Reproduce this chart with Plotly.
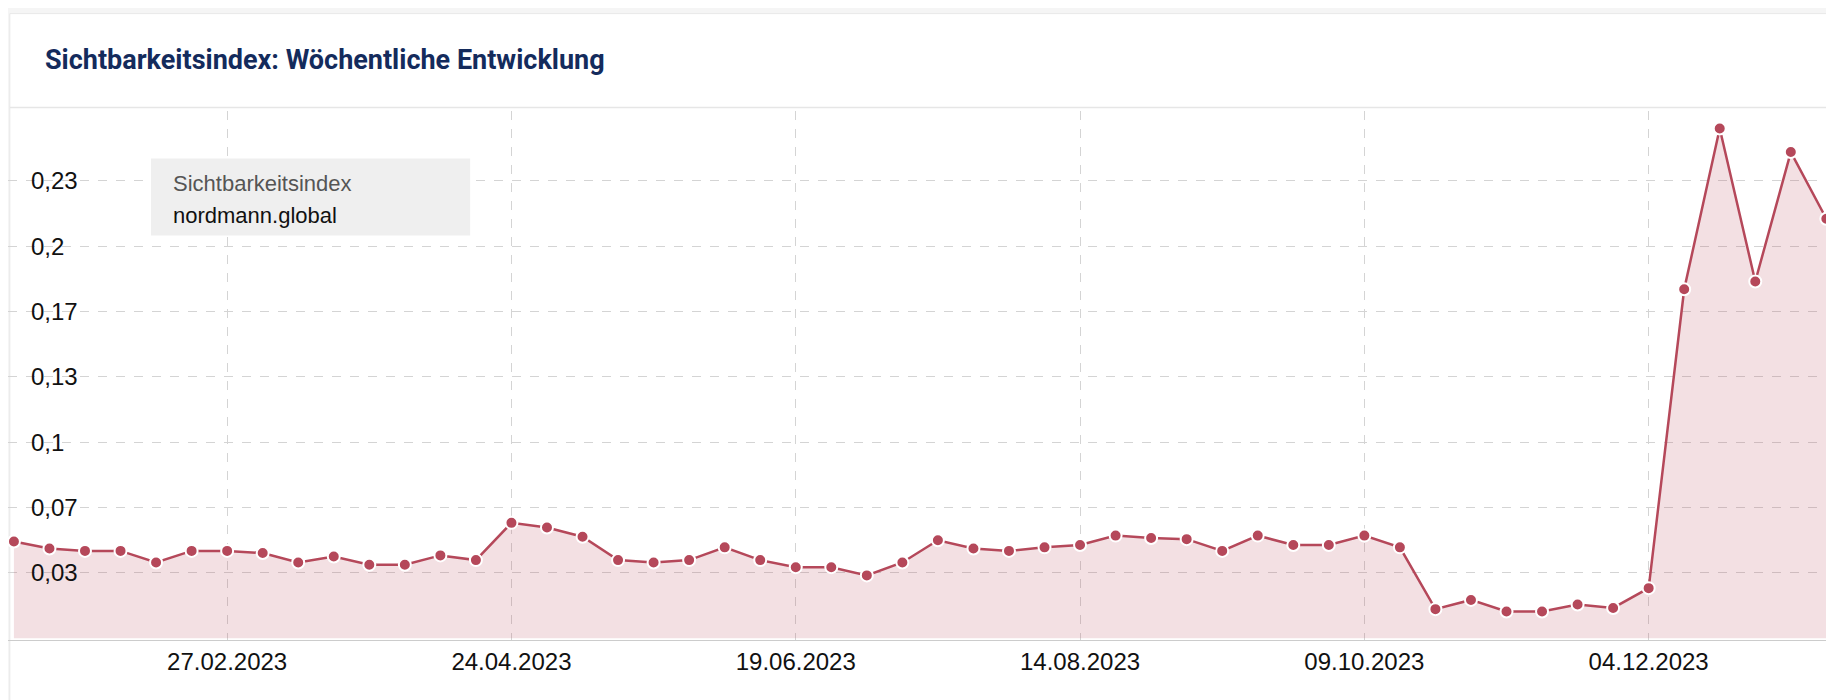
import plotly.graph_objects as go
import pandas as pd

# weekly visibility index
dates = pd.date_range("2023-01-16", periods=53, freq="7D")
values = [
    0.0494, 0.0458, 0.0446, 0.0446, 0.0387, 0.0446, 0.0446, 0.0435, 0.0387, 0.0417,
    0.0375, 0.0375, 0.0423, 0.0399, 0.0589, 0.0565, 0.0518, 0.0399, 0.0387, 0.0399,
    0.0464, 0.0399, 0.0363, 0.0363, 0.0321, 0.0387, 0.0500, 0.0458, 0.0446, 0.0464,
    0.0476, 0.0524, 0.0512, 0.0506, 0.0446, 0.0524, 0.0476, 0.0476, 0.0524, 0.0464,
    0.0149, 0.0196, 0.0137, 0.0137, 0.0173, 0.0155, 0.0256, 0.178, 0.260, 0.182,
    0.248, 0.214, 0.134,
]
y_ticks = [1/30, 2/30, 3/30, 4/30, 5/30, 6/30, 7/30]
y_tick_labels = ["0,03", "0,07", "0,1", "0,13", "0,17", "0,2", "0,23"]

red = "#b5485a"

fig = go.Figure()
fig.add_trace(go.Scatter(
    x=dates, y=values,
    mode="lines+markers",
    line=dict(color=red, width=2.5),
    marker=dict(size=12, color=red, line=dict(color="white", width=2)),
    fill="tozeroy",
    fillcolor="rgba(181,72,90,0.17)",
    showlegend=False,
))

fig.update_layout(
    width=1834, height=700,
    margin=dict(l=0, r=0, t=0, b=0, pad=0),
    paper_bgcolor="#f5f5f5",
    plot_bgcolor="rgba(0,0,0,0)",
    font=dict(family="Liberation Sans, Arial", color="#111"),
    xaxis=dict(
        domain=[0.0, 0.997],
        automargin=False,
        range=["2023-01-14 20:00", "2024-01-10"],
        tick0="2023-01-02", dtick=8 * 7 * 86400000,
        tickformat="%d.%m.%Y",
        showgrid=True, gridcolor="#d4d4d4", griddash="dash", gridwidth=1,
        showline=True, linecolor="#ccc",
        zeroline=False,
        ticks="", tickfont=dict(size=24, color="#111"),
    ),
    yaxis=dict(
        domain=[0.0967, 0.853],
        automargin=False,
        range=[-0.001, 0.269],
        tickvals=y_ticks, ticktext=y_tick_labels,
        ticklabelposition="inside",
        ticklabelstandoff=20,
        tickfont=dict(size=24, color="#111"),
        showgrid=True, gridcolor="#d4d4d4", griddash="dash", gridwidth=1,
        zeroline=False, ticks="",
    ),
    shapes=[
        dict(type="rect", xref="paper", yref="paper", x0=0.001, x1=0.999, y0=-0.01, y1=0.992,
             fillcolor="white", line=dict(color="#e8e8e8", width=1), layer="below"),
        dict(type="line", xref="paper", yref="paper", x0=0.001, x1=0.999, y0=0.858, y1=0.858,
             line=dict(color="#e6e6e6", width=1.5)),
        dict(type="rect", xref="paper", yref="paper", x0=0.078, x1=0.252, y0=0.675, y1=0.785,
             fillcolor="#efefef", line=dict(width=0), layer="above"),
    ],
    annotations=[
        dict(text="<b>Sichtbarkeitsindex: Wöchentliche Entwicklung</b>", xref="paper", yref="paper",
             x=0.019, y=0.925, xanchor="left", yanchor="middle", showarrow=False,
             font=dict(family="Roboto", size=27, color="#142b5c")),
        dict(text="Sichtbarkeitsindex", xref="paper", yref="paper", x=0.089, y=0.749,
             xanchor="left", yanchor="middle", showarrow=False,
             font=dict(size=22, color="#555")),
        dict(text="nordmann.global", xref="paper", yref="paper", x=0.089, y=0.704,
             xanchor="left", yanchor="middle", showarrow=False,
             font=dict(size=22, color="#111")),
    ],
)

fig.write_html("out.html")
